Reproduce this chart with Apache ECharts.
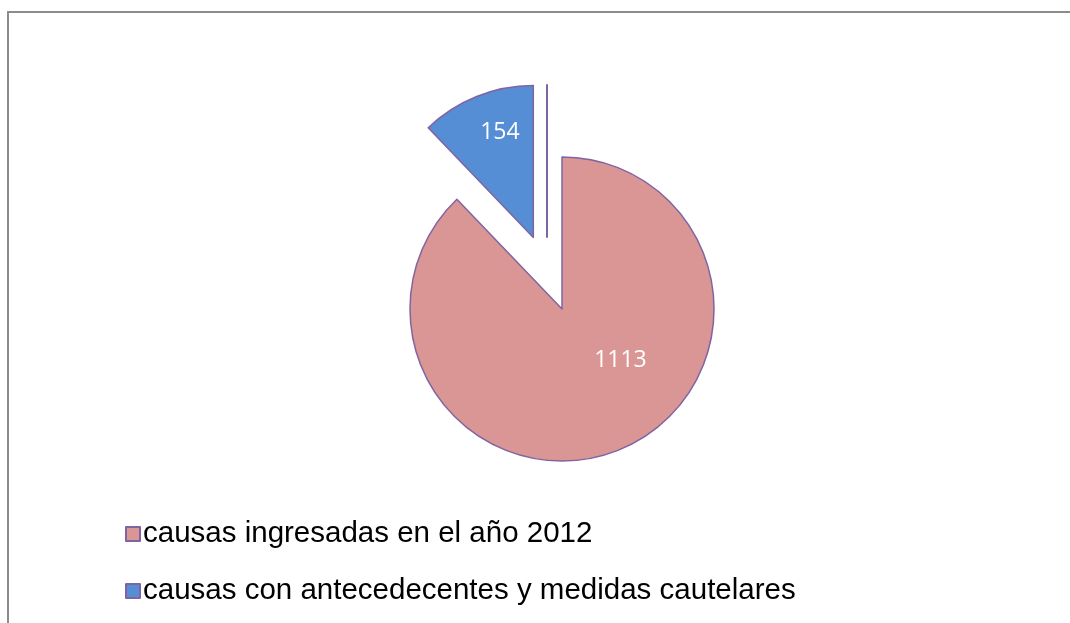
<!DOCTYPE html>
<html><head><meta charset="utf-8">
<script src="https://cdn.jsdelivr.net/npm/echarts@6/dist/echarts.min.js"></script>
<style>html,body{margin:0;padding:0;background:#fff}#c{width:1070px;height:623px}</style>
</head><body><div id="c"></div>
<script>
var categories = ['causas ingresadas en el año 2012', 'causas con antecedecentes y medidas cautelares'];
var values = [1113, 154];
var explodedIndex = 1;
var strayValues = [0, 1];

var colors = ['#D99694', '#558ED5'];
var border = '#8064A2';
var chart = echarts.init(document.getElementById('c'));
var labelShift = [[29, -22], [-4, -32]];
chart.setOption({
  animation: false,
  graphic: [{type:'rect', shape:{x:8, y:12, width:1080, height:640}, style:{fill:'none', stroke:'#8c8c8c', lineWidth:2}, silent:true}],
  legend: {
    orient: 'vertical', left: 120, top: 514, itemWidth: 14, itemHeight: 14, itemGap: 27,
    icon: 'rect', selectedMode: false, data: categories,
    textStyle: {fontFamily: 'Liberation Sans, Arial', fontSize: 29.5, color: '#000', padding:[0,0,0,-2]}
  },
  series: [{
    type: 'pie', center: [562, 309], radius: 152, startAngle: 90, clockwise: true,
    selectedMode: 'multiple', selectedOffset: 77, silent: true,
    data: categories.map(function(n, i){ return {name:n, value:values[i], selected: i===explodedIndex, itemStyle:{color:colors[i]}}; }),
    itemStyle: {borderColor: border, borderWidth: 1.5},
    label: {show: true, position: 'inside', formatter: '{c}', color: '#fff', fontFamily: 'Open Sans', fontSize: 23},
    labelLine: {show: false},
    labelLayout: function(p){ var s = labelShift[p.dataIndex]; return {dx: s[0], dy: s[1]}; },
    emphasis: {disabled: true}
  }, {
    type: 'pie', center: [547, 237], radius: 152, startAngle: 90, clockwise: true, silent: true,
    data: strayValues.map(function(v, i){ return {name: 'x'+i, value: v, itemStyle: i===0 ? {color:'none', borderColor:border, borderWidth:2} : {color:'rgba(0,0,0,0)', borderWidth:0}}; }),
    label: {show: false}, labelLine: {show: false}, emphasis: {disabled: true}
  }]
});
</script></body></html>
